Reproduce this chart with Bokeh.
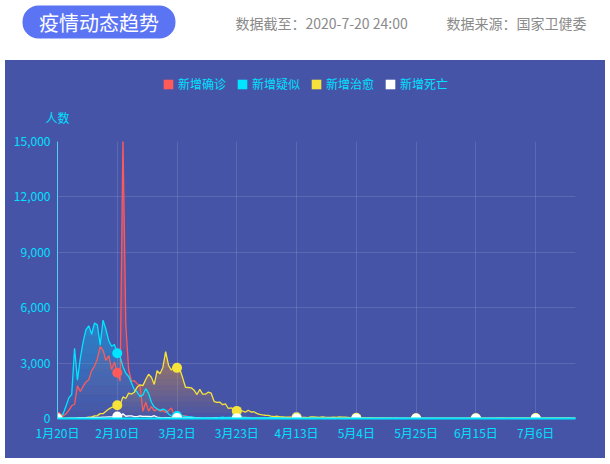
import numpy as np
import pandas as pd
from bokeh.plotting import figure
from bokeh.layouts import column
from bokeh.models import (FixedTicker, NumeralTickFormatter, Legend, LegendItem,
                          Label, BoxAnnotation)
from bokeh.embed import file_html
from bokeh.resources import INLINE

# ---------------- data ----------------
dates = pd.date_range("2020-01-20", "2020-07-20", freq="D")
series_names = ["新增确诊", "新增疑似", "新增治愈", "新增死亡"]
tick_labels = ["1月20日", "2月10日", "3月2日", "3月23日", "4月13日",
               "5月4日", "5月25日", "6月15日", "7月6日"]
y_ticks = [0, 3000, 6000, 9000, 12000, 15000]
y_name = "人数"
title_text = "疫情动态趋势"
update_text = "数据截至：2020-7-20 24:00"
source_text = "数据来源：国家卫健委"

confirmed = [
    77, 149, 131, 259, 444, 688, 769, 1771, 1459, 1737, 1982, 2102,
    2590, 2829, 3235, 3887, 3694, 3143, 3399, 2656, 3062, 2478,
    2015, 15152, 5090, 2641, 2009, 2048, 1886, 1749, 394, 889,
    397, 648, 409, 508, 406, 433, 327, 427, 573,
    202, 125, 119, 139, 143, 99, 44, 40, 19, 24,
    15, 8, 11, 20, 16, 21, 13, 34, 39, 41,
    46, 39, 78, 47, 67, 55, 54, 45, 31, 48, 36,
    35, 31, 19, 30, 39, 32, 62, 63, 42, 46,
    99, 108, 89, 46, 26, 27, 24, 16, 12, 11,
    30, 10, 10, 6, 12, 11, 3, 22, 4, 12,
    2, 1, 2, 3, 1, 2, 4, 1, 14, 17,
    1, 7, 3, 4, 5, 8, 5, 6, 6, 5,
    4, 3, 3, 11, 7, 1, 2, 2, 4, 2, 16,
    5, 7, 5, 5, 6, 5, 6, 4, 3, 11,
    8, 11, 57, 49, 40, 44, 28, 32, 26, 27,
    26, 18, 22, 19, 13, 21, 17, 12, 19, 3,
    3, 5, 4, 5, 8, 8, 7, 7, 2, 7,
    8, 7, 8, 3, 4, 11, 22, 16, 22, 11,
]

suspected = [
    0, 60, 257, 680, 1118, 1309, 3806, 2077, 3248, 4148, 4812, 5019,
    4562, 5173, 5072, 3971, 5328, 4833, 4214, 3916, 4008, 3536,
    3342, 2807, 2450, 2277, 1918, 1563, 1432, 1185, 1277, 1614,
    1361, 882, 620, 530, 439, 508, 452, 248, 132,
    141, 129, 143, 143, 102, 99, 84, 60, 36, 31,
    33, 33, 17, 39, 41, 45, 45, 73, 49, 57,
    64, 54, 74, 76, 61, 61, 33, 37, 22, 25, 40,
    31, 35, 44, 49, 43, 46, 47, 59, 44, 41,
    48, 74, 70, 53, 48, 47, 50, 49, 28, 32,
    38, 29, 22, 23, 19, 20, 17, 23, 10, 8,
    6, 7, 4, 2, 3, 4, 5, 8, 5, 6,
    5, 7, 4, 3, 4, 6, 2, 4, 1, 2,
    3, 4, 5, 8, 3, 6, 4, 3, 2, 3, 2,
    4, 3, 5, 2, 1, 3, 2, 4, 2, 3,
    2, 1, 3, 5, 9, 6, 7, 4, 8, 5,
    3, 2, 4, 3, 2, 5, 3, 2, 4, 3,
    2, 3, 1, 2, 3, 4, 3, 2, 1, 2,
    3, 5, 2, 3, 4, 3, 6, 4, 5, 3,
]

cured = [
    0, 0, 3, 6, 3, 11, 2, 9, 43, 21, 47, 72,
    85, 147, 157, 262, 261, 387, 510, 600, 632, 716,
    744, 1171, 1081, 1373, 1323, 1425, 1701, 1824, 1779, 2109,
    2393, 2230, 1846, 2589, 2422, 2750, 3622, 2885, 2623,
    2837, 2742, 2652, 2189, 1681, 1678, 1661, 1535, 1297, 1578,
    1318, 1318, 1430, 1370, 930, 877, 891, 749, 798, 543,
    578, 471, 412, 448, 406, 342, 447, 351, 363, 281, 228,
    192, 176, 164, 131, 101, 122, 96, 85, 72, 69,
    54, 56, 49, 58, 60, 63, 52, 88, 83, 71,
    59, 93, 78, 66, 57, 71, 60, 93, 72, 70,
    62, 51, 46, 44, 37, 40, 35, 31, 28, 22,
    25, 24, 18, 20, 17, 15, 12, 14, 10, 11,
    9, 8, 10, 8, 7, 6, 9, 5, 6, 5, 4,
    5, 6, 4, 7, 5, 8, 6, 9, 7, 5,
    6, 4, 3, 5, 6, 8, 7, 10, 9, 12,
    11, 14, 15, 13, 16, 12, 18, 15, 14, 20,
    22, 25, 19, 24, 28, 30, 25, 22, 20, 18,
    21, 24, 19, 16, 22, 18, 20, 15, 12, 14,
]

deaths = [
    0, 3, 8, 8, 16, 15, 24, 26, 26, 38, 43, 46,
    45, 57, 64, 65, 73, 73, 86, 89, 97, 108,
    97, 254, 121, 143, 142, 105, 98, 136, 114, 118,
    109, 97, 150, 71, 52, 29, 44, 47, 35,
    42, 31, 38, 31, 30, 28, 27, 22, 17, 22,
    11, 7, 13, 10, 14, 13, 11, 8, 3, 7,
    6, 9, 7, 4, 6, 5, 3, 5, 4, 1, 7,
    6, 4, 4, 3, 1, 2, 0, 2, 1, 1,
    0, 2, 0, 0, 0, 0, 0, 0, 0, 0,
    0, 0, 0, 0, 0, 0, 0, 0, 0, 0,
    0, 0, 0, 0, 0, 0, 0, 0, 0, 0,
    0, 0, 0, 0, 0, 0, 0, 0, 0, 0,
    0, 0, 0, 0, 0, 0, 0, 0, 0, 0, 0,
    0, 0, 0, 0, 0, 0, 0, 0, 0, 0,
    0, 0, 0, 0, 0, 0, 0, 0, 0, 0,
    0, 0, 0, 0, 0, 0, 0, 0, 0, 0,
    0, 0, 0, 0, 0, 0, 0, 0, 0, 0,
    0, 0, 0, 0, 0, 0, 0, 0, 0, 0,
]

# ---------------- style ----------------
FONT = "Noto Sans CJK SC"
BG = "#4654a8"
CYAN = "#00e1ff"
line_colors = ["#ff5a5a", "#00e5ff", "#f5e33c", "#ffffff"]
area_colors = ["#ff5a5a", "#00d2ff", "#f0962a", "#ffffff"]
area_alpha = [0.6, 0.38, 0.55, 0.3]

n = len(dates)
x = np.arange(n)
tick_idx = list(range(0, n, 21))

# ---------------- header (white band) ----------------
HW, HH = 610, 60
h = figure(width=HW, height=HH, x_range=(0, HW), y_range=(0, HH),
           x_axis_type=None, y_axis_type=None, toolbar_location=None,
           output_backend="svg", min_border=0, frame_align=False,
           outline_line_color=None,
           background_fill_color="white", border_fill_color="white")
h.grid.visible = False
h.add_layout(BoxAnnotation(left=22, right=175, bottom=22, top=55,
                           fill_color="#5b74f4", fill_alpha=1.0,
                           line_color=None, border_radius=16))
h.add_layout(Label(x=98.5, y=38.5, text=title_text, text_align="center",
                   text_baseline="middle", text_color="white",
                   text_font=FONT, text_font_size="20px"))
h.add_layout(Label(x=235, y=38, text=update_text, text_align="left",
                   text_baseline="middle", text_color="#8a8a8a",
                   text_font=FONT, text_font_size="14px"))
h.add_layout(Label(x=446, y=38, text=source_text, text_align="left",
                   text_baseline="middle", text_color="#8a8a8a",
                   text_font=FONT, text_font_size="14px"))

# ---------------- legend band ----------------
W, MH = 600, 71
m = figure(width=W, height=MH, x_range=(0, W), y_range=(0, MH),
           x_axis_type=None, y_axis_type=None, toolbar_location=None,
           output_backend="svg", min_border=0, frame_align=False,
           outline_line_color=None,
           background_fill_color=BG, border_fill_color=BG)
m.grid.visible = False
items = []
for name, c in zip(series_names, line_colors):
    # legend swatch only: a single NaN quad, nothing is drawn in the plot
    r = m.quad(left=[np.nan], right=[np.nan], top=[np.nan], bottom=[np.nan],
               fill_color=c, fill_alpha=1.0, line_color=None)
    items.append(LegendItem(label=name, renderers=[r]))
legend = Legend(items=items, orientation="horizontal", location=(157, 39),
                background_fill_alpha=0, border_line_color=None,
                label_text_color=CYAN, label_text_font=FONT,
                label_text_font_size="12px", glyph_width=12, glyph_height=12,
                label_standoff=4, spacing=10, padding=0, margin=0,
                label_height=14)
m.add_layout(legend)
m.add_layout(Label(x=52, y=14, text=y_name, text_align="center",
                   text_baseline="middle", text_color=CYAN,
                   text_font=FONT, text_font_size="12px"))

# ---------------- main chart ----------------
p = figure(width=W, height=327, x_range=(0, n - 1), y_range=(0, 15000),
           toolbar_location=None, output_backend="svg", frame_align=False,
           background_fill_color=BG, border_fill_color=BG,
           outline_line_color=None,
           min_border_left=52, min_border_right=30,
           min_border_top=10, min_border_bottom=40)

all_series = [confirmed, suspected, cured, deaths]
arrays = [np.array(vals, dtype=float) for vals in all_series]

# gradient-like areas (stronger near the series' top, fading to the axis)
for v, fc, a0 in zip(arrays, area_colors, area_alpha):
    top = v.max()
    nb = 12
    for j in range(nb):
        lo, hi = top * j / nb, top * (j + 1) / nb
        p.varea(x=x, y1=np.minimum(v, lo), y2=np.minimum(v, hi),
                fill_color=fc, fill_alpha=a0 * (j + 0.5) / nb)
for v, lc in zip(arrays, line_colors):
    p.line(x, v, line_color=lc, line_width=1.3)
for v, lc in zip(arrays, line_colors):
    p.scatter(x[tick_idx], v[tick_idx], size=10, fill_color=lc, line_color=None)

p.xaxis.ticker = FixedTicker(ticks=tick_idx)
p.xaxis.major_label_overrides = {i: lab for i, lab in zip(tick_idx, tick_labels)}
p.yaxis.ticker = FixedTicker(ticks=y_ticks)
p.yaxis.formatter = NumeralTickFormatter(format="0,0")
for ax in (p.xaxis, p.yaxis):
    ax.major_tick_line_color = None
    ax.minor_tick_line_color = None
    ax.major_tick_out = 0
    ax.major_tick_in = 0
    ax.minor_tick_out = 0
    ax.major_label_text_color = CYAN
    ax.major_label_text_font = FONT
    ax.major_label_text_font_size = "12px"
p.xaxis.axis_line_color = "#00e5ff"
p.xaxis.axis_line_width = 2
p.xaxis.major_label_standoff = 5
p.yaxis.axis_line_color = "#48d4f2"
p.yaxis.axis_line_width = 1
p.yaxis.major_label_standoff = 7
p.grid.grid_line_color = "white"
p.grid.grid_line_alpha = 0.12

panel = column(m, p, spacing=0, margin=(0, 0, 0, 5),
               styles={"background-color": BG})
layout = column(h, panel, spacing=0)
open("out.html", "w").write(file_html(layout, INLINE))
